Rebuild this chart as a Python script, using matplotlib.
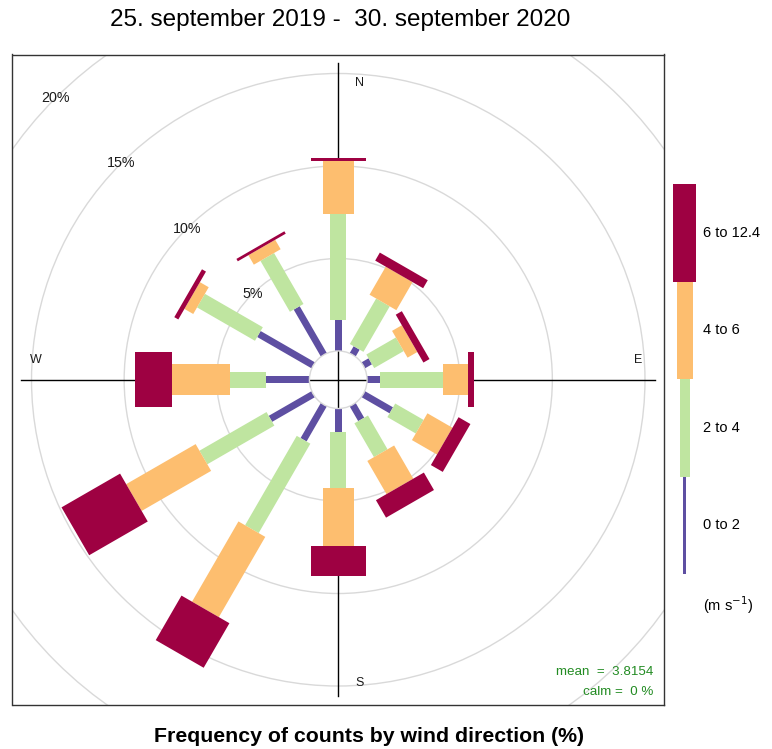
import numpy as np
import matplotlib
matplotlib.use("Agg")
import matplotlib.pyplot as plt
from matplotlib.patches import Polygon, Circle, Rectangle

plt.rcParams['font.family'] = ['Liberation Sans', 'DejaVu Sans']

# ---- data ----
directions = [0, 30, 60, 90, 120, 150, 180, 210, 240, 270, 300, 330]
speed_labels = ["0 to 2", "2 to 4", "4 to 6", "6 to 12.4"]
colors = ["#5E4FA2", "#BFE5A0", "#FDBE6F", "#9E0142"]
freq_0_2 = [1.65, 0.43, 0.44, 0.70, 1.75, 0.92, 1.27, 2.19, 2.67, 2.34, 3.39, 2.93]
freq_2_4 = [5.73, 2.84, 1.84, 3.41, 1.77, 2.11, 3.05, 5.58, 4.18, 1.94, 3.61, 3.18]
freq_4_6 = [2.89, 1.75, 0.61, 1.34, 1.56, 2.07, 3.10, 5.01, 4.33, 3.14, 0.55, 0.59]
freq_6_12 = [0.18, 0.50, 0.38, 0.32, 0.74, 1.09, 1.61, 2.78, 3.65, 1.97, 0.25, 0.15]
grid_levels = [5, 10, 15, 20]
compass = ["N", "E", "S", "W"]
title = "25. september 2019 -  30. september 2020"
xlabel = "Frequency of counts by wind direction (%)"
units_label = r"(m s$^{-1}$)"
mean_ws = 3.8154
calm_pct = 0

W, H = 772, 749
fig = plt.figure(figsize=(W / 100, H / 100), dpi=100)

px_l, px_r, px_t, px_b = 12.5, 664, 54.5, 705
ax = fig.add_axes([px_l / W, 1 - px_b / H, (px_r - px_l) / W, (px_b - px_t) / H])

freqs = np.array([freq_0_2, freq_2_4, freq_4_6, freq_6_12])
cum = np.vstack([np.zeros(len(directions)), np.cumsum(freqs, axis=0)])
max_freq = cum[-1].max()
off = 0.1 * max_freq
lim = 1.03 * max_freq + off
ax.set_xlim(-lim, lim)
ax.set_ylim(-lim, lim)

bin_angle = 30
box_widths = np.linspace(0.002 ** 0.25, 0.016 ** 0.25, len(speed_labels)) ** 4
half_w = box_widths * max_freq * bin_angle / 5

grid_col = "#d9d9d9"
for lvl in grid_levels:
    ax.add_patch(Circle((0, 0), lvl + off, fill=False, ec=grid_col, lw=1.0, zorder=1))
    a = np.deg2rad(315)
    ax.text((lvl + off) * np.sin(a), (lvl + off) * np.cos(a), f"{lvl}%",
            fontsize=10.3, ha="center", va="center", color="#1a1a1a", zorder=6)
ax.add_patch(Circle((0, 0), off, fill=False, ec=grid_col, lw=1.0, zorder=4))

L = max_freq + off
ax.plot([-L, L], [0, 0], color="black", lw=1.0, zorder=2)
ax.plot([0, 0], [-L, L], color="black", lw=1.0, zorder=2)

for i, d in enumerate(directions):
    t = np.deg2rad(d)
    u = np.array([np.sin(t), np.cos(t)])
    p = np.array([np.cos(t), -np.sin(t)])
    for j in range(len(speed_labels)):
        r1 = cum[j, i] + off
        r2 = cum[j + 1, i] + off
        w = half_w[j]
        pts = [r1 * u - w * p, r2 * u - w * p, r2 * u + w * p, r1 * u + w * p]
        ax.add_patch(Polygon(pts, closed=True, fc=colors[j], ec="none", zorder=3))

lab_pos = {"N": (1.13, 16.05), "E": (16.2, 1.07), "S": (1.13, -16.4), "W": (-16.3, 1.07)}
for name in compass:
    x, y = lab_pos[name]
    ax.text(x, y, name, fontsize=9, ha="center", va="center", color="#1a1a1a", zorder=6)

for sp in ax.spines.values():
    sp.set_color("#333333")
    sp.set_linewidth(1.0)
ax.set_xticks([])
ax.set_yticks([])

# overlay in pixel coords
ov = fig.add_axes([0, 0, 1, 1])
ov.set_xlim(0, W)
ov.set_ylim(H, 0)
ov.axis("off")
ov.patch.set_alpha(0)

ov.text(340, 20, title, fontsize=17.5, ha="center", va="center")
ov.text(368.5, 736, xlabel, fontsize=15.3, fontweight="bold", ha="center", va="center")

ov.text(653, 672, f"mean  =  {mean_ws}", fontsize=9.6, ha="right", va="center", color="#228B22")
ov.text(653, 692, f"calm =  {calm_pct} %", fontsize=9.6, ha="right", va="center", color="#228B22")

# key
key_cx = 684.5
key_top = 184
seg_h = 97.5
key_w = [3.5, 10, 16, 23]
for j in range(len(speed_labels)):
    k = len(speed_labels) - 1 - j
    y0 = key_top + j * seg_h
    ww = key_w[k]
    ov.add_patch(Rectangle((key_cx - ww / 2, y0), ww, seg_h, fc=colors[k], ec="none"))
    ov.text(703, y0 + seg_h / 2, speed_labels[k], fontsize=10.5, ha="left", va="center")
ov.text(703, 605, units_label, fontsize=10.5, ha="left", va="center")

fig.savefig("out.png", dpi=100)
